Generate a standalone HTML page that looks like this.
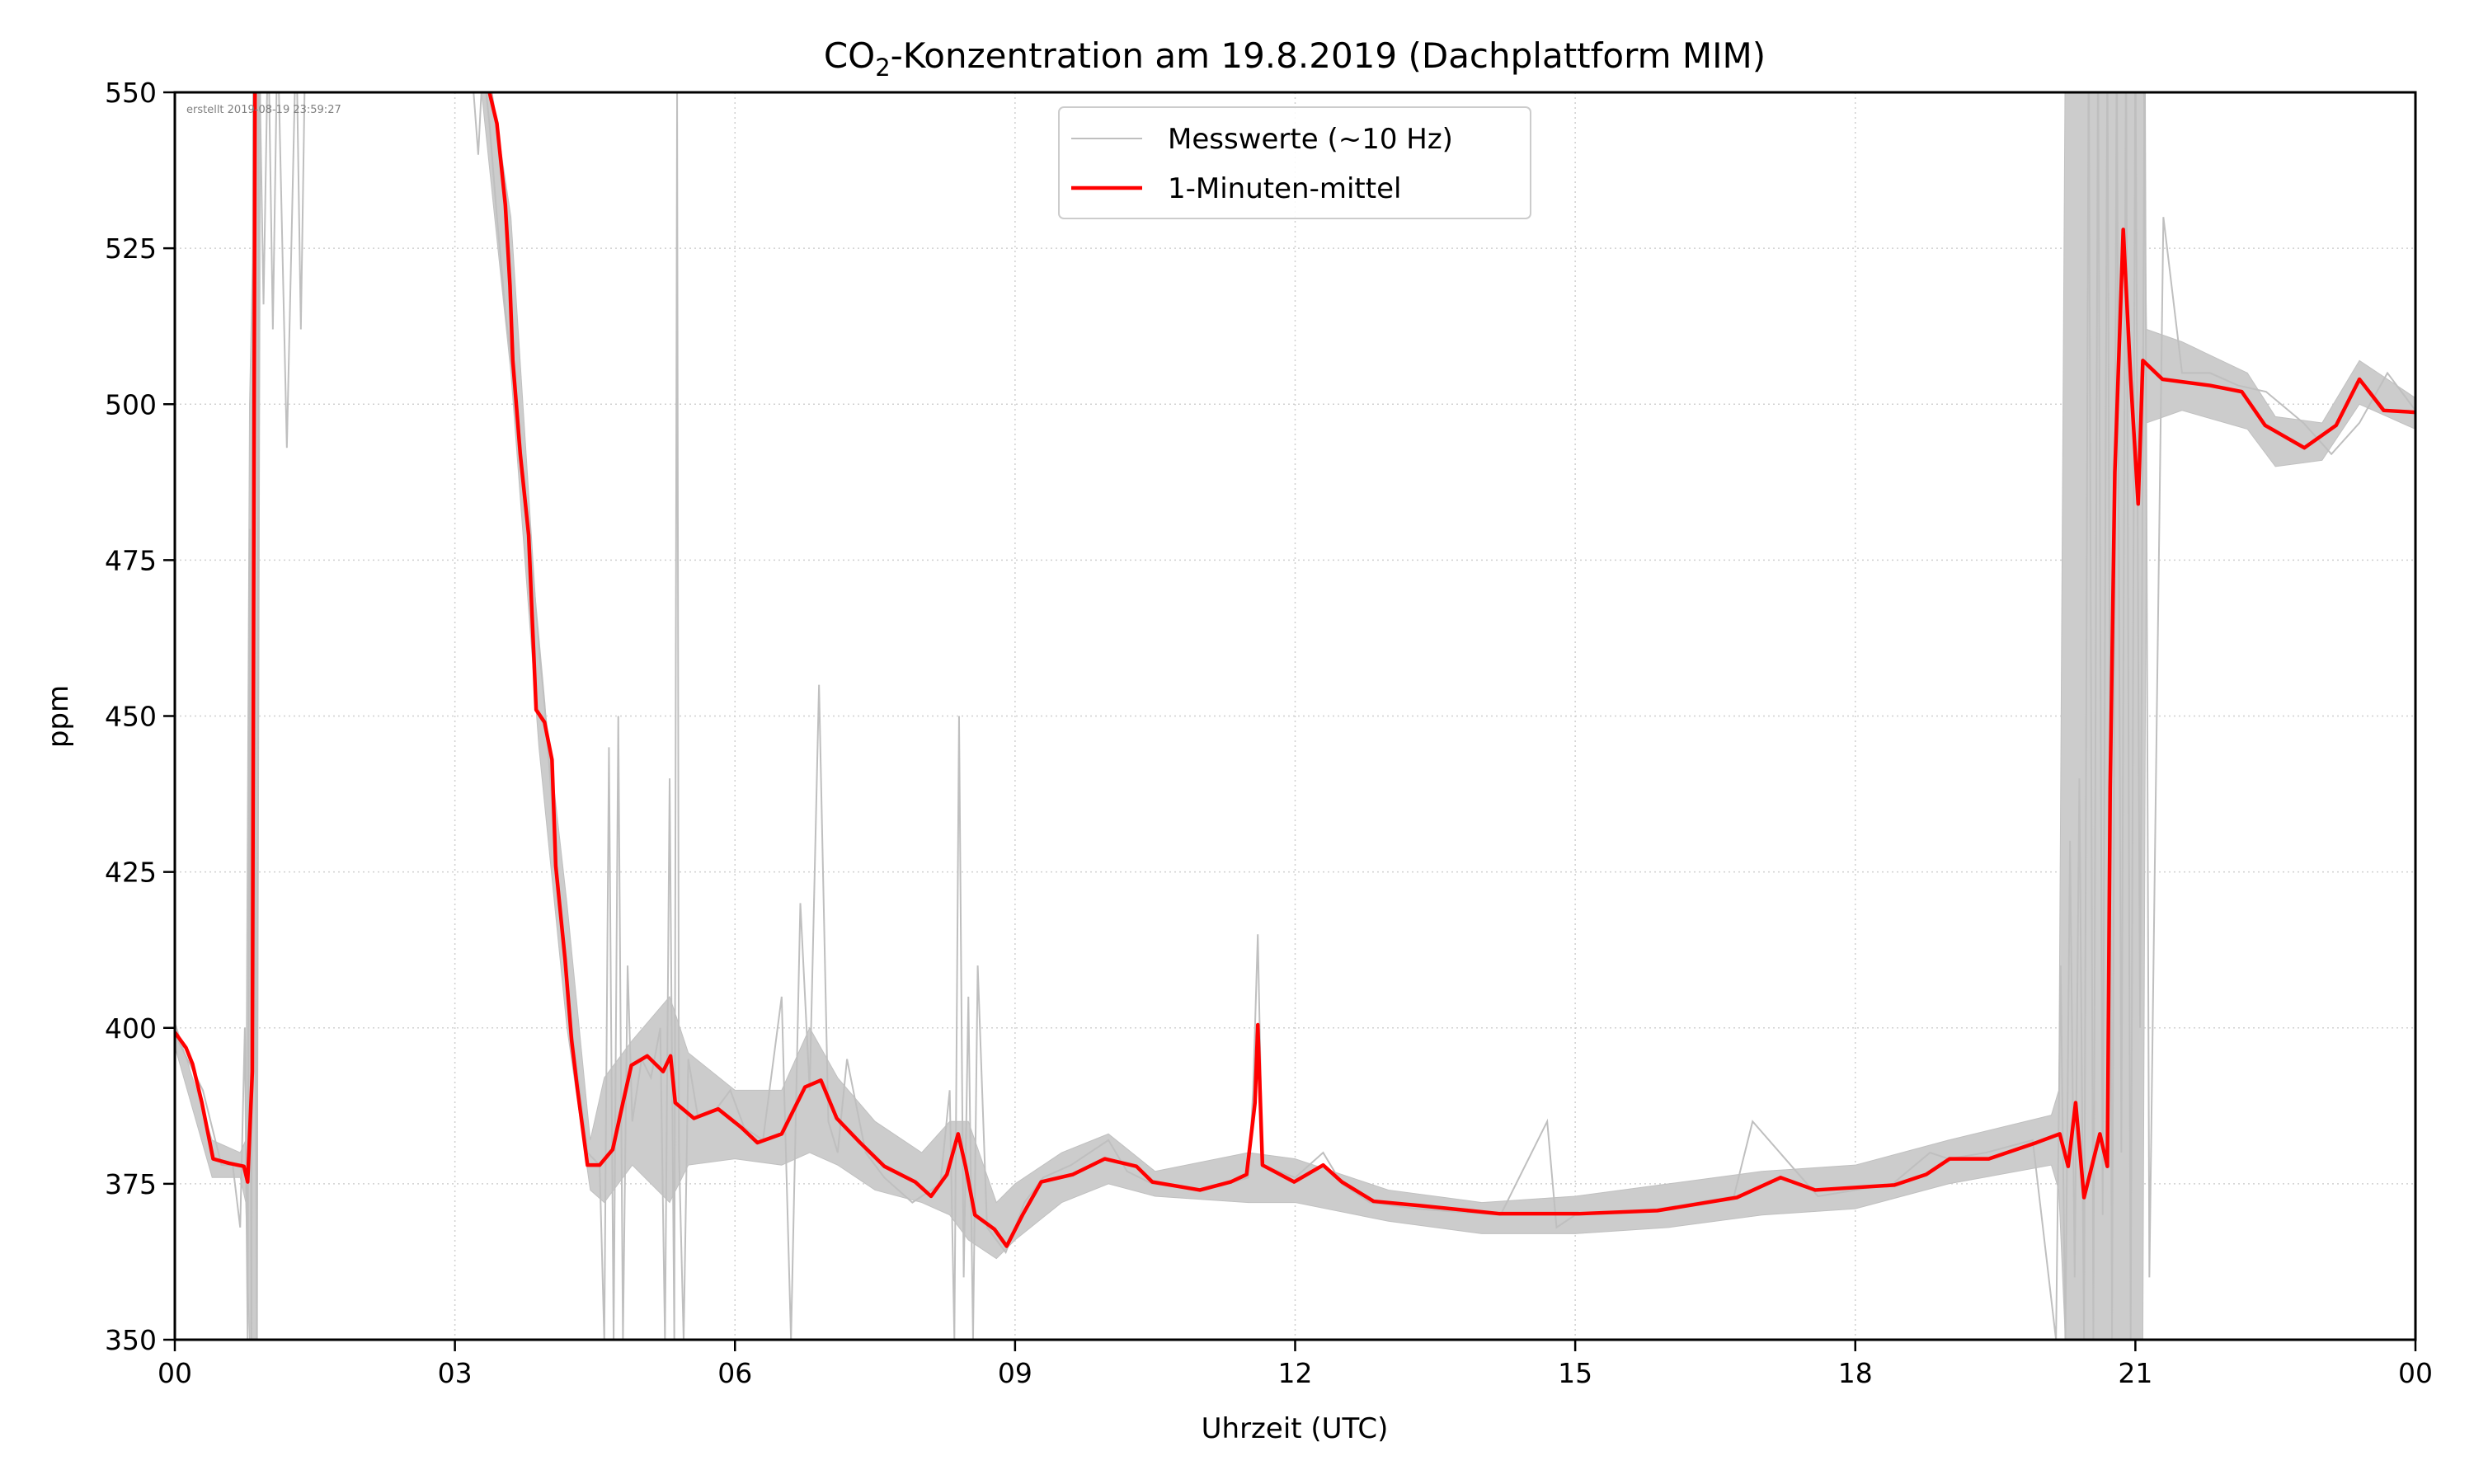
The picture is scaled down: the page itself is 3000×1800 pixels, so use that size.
<!DOCTYPE html>
<html><head><meta charset="utf-8"><style>
html,body{margin:0;padding:0;background:#fff;}
svg{display:block;font-family:"DejaVu Sans","Liberation Sans",sans-serif;}
</style></head><body>
<svg id="chart" width="3000" height="1800" viewBox="0 0 3000 1800">
<defs><clipPath id="plotclip"><rect x="212" y="112" width="2717" height="1513"/></clipPath></defs>
<rect x="0" y="0" width="3000" height="1800" fill="#fff"/>
<g id="grid"></g>
<g id="gray" clip-path="url(#plotclip)"></g>
<g id="red" clip-path="url(#plotclip)"></g>
<rect x="212" y="112" width="2717" height="1513" fill="none" stroke="#000" stroke-width="3"/>
<g id="ticks"></g>
<text x="226" y="137" font-size="13" fill="#808080">erstellt 2019-08-19 23:59:27</text>
<text x="1570" y="82" font-size="42" text-anchor="middle">CO<tspan font-size="29" dy="10">2</tspan><tspan dy="-10">-Konzentration am 19.8.2019 (Dachplattform MIM)</tspan></text>
<text x="1570" y="1744" font-size="34" text-anchor="middle">Uhrzeit (UTC)</text>
<text x="82" y="869" font-size="34" text-anchor="middle" transform="rotate(-90 82 869)">ppm</text>
<g>
<rect x="1284" y="130" width="572" height="135" rx="6" fill="#fff" fill-opacity="0.85" stroke="#ccc" stroke-width="2"/>
<line x1="1299" y1="168" x2="1385" y2="168" stroke="#bfbfbf" stroke-width="2"/>
<text x="1416" y="180" font-size="34">Messwerte (~10 Hz)</text>
<line x1="1299" y1="228" x2="1385" y2="228" stroke="#f00" stroke-width="4.5"/>
<text x="1416" y="240" font-size="34">1-Minuten-mittel</text>
</g>
</svg>
<script>
const xTickLabels=["00","03","06","09","12","15","18","21","00"];
const xTickHours=[0,3,6,9,12,15,18,21,24];
const yTicks=[350,375,400,425,450,475,500,525,550];
const meanHours=[0,0.12,0.19,0.29,0.41,0.58,0.74,0.78,0.83,0.86,0.9,3.2,3.37,3.45,3.54,3.59,3.62,3.7,3.79,3.87,3.96,4.04,4.08,4.18,4.25,4.31,4.42,4.55,4.69,4.8,4.89,5.06,5.23,5.31,5.36,5.56,5.82,6.07,6.24,6.5,6.75,6.92,7.09,7.34,7.6,7.93,8.1,8.27,8.39,8.47,8.57,8.78,8.91,9.08,9.28,9.62,9.96,10.3,10.47,10.98,11.31,11.48,11.57,11.6,11.65,11.99,12.3,12.5,12.84,13.34,14.19,15.04,15.88,16.73,17.2,17.57,18.42,18.76,19.01,19.43,19.94,20.19,20.28,20.36,20.45,20.62,20.7,20.73,20.78,20.87,20.95,21.03,21.08,21.29,21.8,22.14,22.39,22.81,23.15,23.4,23.52,23.66,24];
const meanValues=[399.3,396.8,394.2,388,379,378.3,377.8,375.3,393,555,560,560,550,545,532,519,507,492,479,451,449,443,426,411,398,390.5,378,378,380.5,388,394,395.5,393,395.5,388,385.5,387,384,381.6,383,390.5,391.6,385.5,381.6,377.8,375.3,373,376.5,383,377.8,370,367.7,365,370,375.3,376.5,379,377.8,375.3,374,375.3,376.5,388,400.5,378,375.3,378,375.3,372.2,371.5,370.2,370.2,370.7,372.8,376,374,374.8,376.5,379,379,381.6,383,377.8,388,372.8,383,377.8,438.5,489,528,504,484,507,504,503,502,496.6,493,496.6,504,501.7,499,498.7];
const rawHours=[0,0.3,0.5,0.62,0.7,0.75,0.78,0.8,0.82,0.84,0.86,0.88,0.9,0.95,1.0,1.05,1.1,1.2,1.3,1.35,1.4,1.6,2.2,2.4,2.7,3.1,3.2,3.25,3.3,3.37,3.45,3.54,3.62,3.79,3.96,4.08,4.25,4.42,4.55,4.6,4.65,4.7,4.75,4.8,4.85,4.9,5.0,5.1,5.2,5.25,5.3,5.35,5.38,5.4,5.45,5.5,5.6,5.8,5.95,6.1,6.3,6.5,6.6,6.7,6.8,6.9,7.0,7.1,7.2,7.4,7.6,7.9,8.2,8.3,8.35,8.4,8.45,8.5,8.55,8.6,8.7,8.9,9.1,9.3,9.6,10.0,10.2,10.47,11.0,11.5,11.55,11.6,11.65,12.0,12.3,12.5,12.8,13.3,14.2,14.7,14.8,15.0,15.9,16.7,16.9,17.6,18.4,18.8,19.0,19.4,19.9,20.15,20.2,20.25,20.3,20.35,20.4,20.45,20.5,20.55,20.6,20.65,20.7,20.75,20.8,20.85,20.9,20.95,21.0,21.05,21.1,21.15,21.3,21.5,21.8,22.1,22.4,22.8,23.1,23.4,23.7,24];
const rawValues=[399,390,378,378,368,400,350,480,350,560,420,350,560,516,560,512,560,493,560,512,560,560,560,560,560,560,550,540,555,545,530,515,505,480,452,428,400,380,378,350,445,350,450,350,410,385,395,392,400,350,440,350,550,380,350,395,386,387,390,384,382,405,350,420,390,455,385,380,395,380,376,372,375,390,350,450,360,405,350,410,368,364,372,376,378,382,377,375,374,376,390,415,378,376,380,375,372,371,370,385,368,370,371,373,385,373,375,380,379,380,382,350,410,350,430,360,440,350,560,350,560,370,560,350,560,380,560,350,560,400,560,360,530,505,505,503,502,497,492,497,505,499,498];
const bandHours=[0,0.4,0.7,0.76,0.8,0.88,0.92,3.2,3.3,3.6,3.9,4.2,4.45,4.6,4.9,5.3,5.5,6.0,6.5,6.8,7.1,7.5,8.0,8.3,8.5,8.8,9.0,9.5,10.0,10.5,11.5,12,13,14,15,16,17,18,19,20.1,20.18,20.25,21.08,21.12,21.5,22.2,22.5,23.0,23.4,24];
const bandLow=[397,376,376,372,350,350,560,560,548,505,445,400,374,372,378,372,378,379,378,380,378,374,372,370,366,363,366,372,375,373,372,372,369,367,367,368,370,371,375,378,374,350,350,497,499,496,490,491,500,496];
const bandHigh=[401,382,380,382,500,560,560,560,560,530,460,420,382,392,398,405,396,390,390,400,392,385,380,385,385,372,375,380,383,377,380,379,374,372,373,375,377,378,382,386,390,560,560,512,510,505,498,497,507,501];

const X0=212,X1=2929,Y0=112,Y1=1625;
const xs=h=>X0+(h/24)*(X1-X0);
const ys=v=>Y1-((v-350)/200)*(Y1-Y0);
const NS="http://www.w3.org/2000/svg";
function mk(tag,attrs,parent){const e=document.createElementNS(NS,tag);for(const k in attrs)e.setAttribute(k,attrs[k]);parent.appendChild(e);return e;}
const grid=document.getElementById('grid'),ticks=document.getElementById('ticks');
xTickHours.forEach((h,i)=>{
  const gl=mk('line',{x1:xs(h),x2:xs(h),y1:Y0,y2:Y1,stroke:'#d0d0d0','stroke-width':1.5,'stroke-dasharray':'2,4'},grid);
  
  
  const tl=mk('line',{x1:xs(h),x2:xs(h),y1:Y1,y2:Y1+14,stroke:'#000','stroke-width':2.5},ticks);
  
  
  const t=mk('text',{x:xs(h),y:Y1+52,'font-size':33,'text-anchor':'middle'},ticks);
  t.textContent=xTickLabels[i];
  
  
});
yTicks.forEach(v=>{
  const gl=mk('line',{x1:X0,x2:X1,y1:ys(v),y2:ys(v),stroke:'#d0d0d0','stroke-width':1.5,'stroke-dasharray':'2,4'},grid);
  
  
  const tl=mk('line',{x1:X0-14,x2:X0,y1:ys(v),y2:ys(v),stroke:'#000','stroke-width':2.5},ticks);
  
  
  const t=mk('text',{x:X0-22,y:ys(v)+12,'font-size':33,'text-anchor':'end'},ticks);
  t.textContent=v;
  
  
});
const gray=document.getElementById('gray');
const bandPts=bandHours.map((h,i)=>xs(h)+','+ys(bandHigh[i])).concat(bandHours.slice().reverse().map((h,j)=>xs(h)+','+ys(bandLow[bandHours.length-1-j])));
const band=mk('polygon',{points:bandPts.join(' '),fill:'#cccccc',stroke:'#c0c0c0','stroke-width':1},gray);


const gp=mk('polyline',{points:rawHours.map((h,i)=>xs(h)+','+ys(rawValues[i])).join(' '),fill:'none',stroke:'#bfbfbf','stroke-width':2},gray);


const rp=mk('polyline',{points:meanHours.map((h,i)=>xs(h)+','+ys(meanValues[i])).join(' '),fill:'none',stroke:'#f00','stroke-width':4.5,'stroke-linejoin':'round'},document.getElementById('red'));


</script>
</body></html>
